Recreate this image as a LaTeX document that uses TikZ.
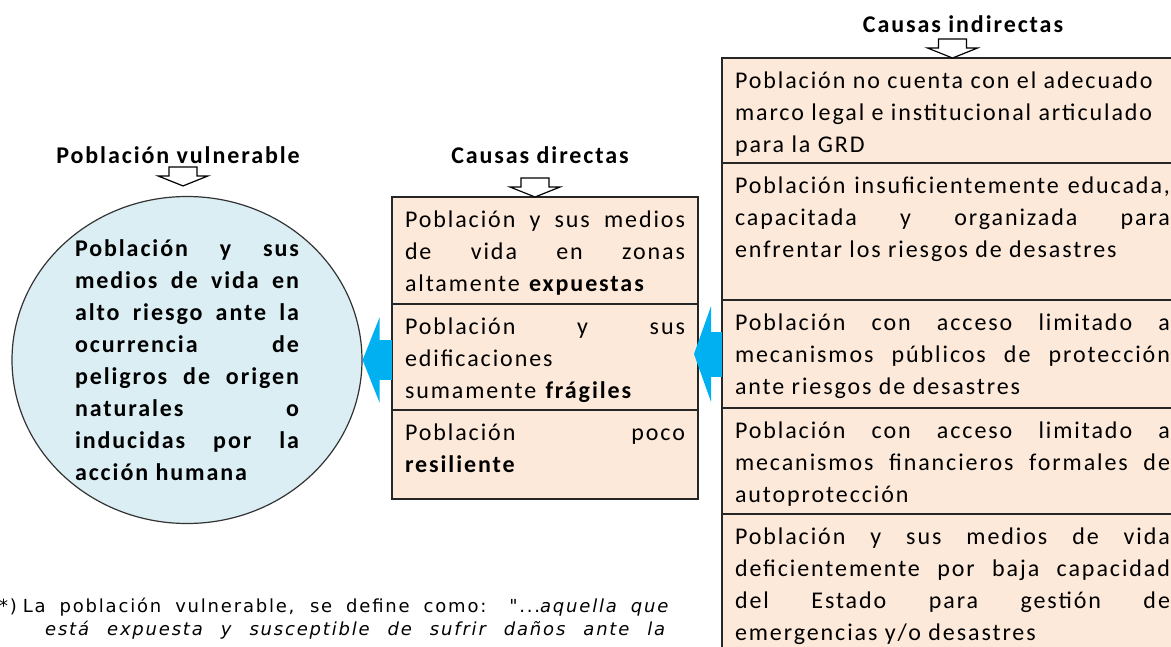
\documentclass[tikz,border=0pt]{standalone}
\usepackage{fontspec}
\setmainfont{Carlito}[LetterSpace=8]
\newfontfamily\notafont{DejaVu Sans}[LetterSpace=10]
\usetikzlibrary{shapes.geometric,arrows.meta,positioning}
\definecolor{melocoton}{HTML}{FDE9D9}
\definecolor{celeste}{HTML}{DAEEF3}
\definecolor{azulflecha}{HTML}{00B0F0}
\newcommand\lj[1]{\makebox[\linewidth][s]{#1}\\}
\newcommand\celda[3]{\parbox[t][#2pt][t]{#1pt}{\strut#3}}
\newcommand\flechahueca[1]{\draw[fill=white,line width=1.2pt] #1 -- ++(-25,-10) -- ++(11,0) -- ++(0,-9) -- ++(28,0) -- ++(0,9) -- ++(11,0) -- cycle;}
\tikzset{
	every node/.style={font=\fontsize{24}{32}\selectfont},
	causa/.style={draw=black!85,fill=melocoton,line width=1.6pt,outer sep=0pt,inner xsep=13pt,inner ysep=8pt},
	titulo/.style={font=\fontsize{24}{32}\selectfont\bfseries},
	nota/.style={font=\notafont\fontsize{18}{22}\selectfont,inner sep=0pt,anchor=west},
	bloque/.style={draw=azulflecha,line width=#1},
}
\begin{document}
\begin{tikzpicture}[x=1pt,y=-1pt]
\useasboundingbox (0,0) rectangle (1171,646);
\clip (0,0) rectangle (1171,646);

% poblacion vulnerable
\node[ellipse,draw=black!80,fill=celeste,line width=1.2pt,minimum width=350pt,minimum height=327pt,inner sep=0pt] (vuln) at (187,360) {};
\node[inner sep=0pt] (vulntexto) at (vuln.center) {\parbox{224pt}{\bfseries
	\lj{Población y sus}\lj{medios de vida en}\lj{alto riesgo ante la}\lj{ocurrencia de}%
	\lj{peligros de origen}\lj{naturales o}\lj{inducidas por la}acción humana}};
\node[titulo] (tvuln) at (178,155) {Población vulnerable};

% causas directas
\node[causa,anchor=north west] (dir1) at (392,197) {\celda{280}{91}{\lj{Población y sus medios}\lj{de vida en zonas}altamente \textbf{expuestas}}};
\node[causa,below=0pt of dir1] (dir2) {\celda{280}{90}{\lj{Población y sus}edificaciones\\sumamente \textbf{frágiles}}};
\node[causa,below=0pt of dir2] (dir3) {\celda{280}{73}{\lj{Población poco}\textbf{resiliente}}};
\node[titulo] (tdir) at (540,155) {Causas directas};

% causas indirectas
\node[causa,anchor=north west] (ind1) at (722,58) {\celda{435}{89}{Población no cuenta con el adecuado\\marco legal e institucional articulado\\para la GRD}};
\node[causa,below=0pt of ind1] (ind2) {\celda{435}{121}{\lj{Población insuficientemente educada,}\lj{capacitada y organizada para}enfrentar los riesgos de desastres}};
\node[causa,below=0pt of ind2] (ind3) {\celda{435}{92}{\lj{Población con acceso limitado a}\lj{mecanismos públicos de protección}ante riesgos de desastres}};
\node[causa,below=0pt of ind3] (ind4) {\celda{435}{90}{\lj{Población con acceso limitado a}\lj{mecanismos financieros formales de}autoprotección}};
\node[causa,below=0pt of ind4] (ind5) {\celda{435}{124}{\lj{Población y sus medios de vida}\lj{deficientemente por baja capacidad}\lj{del Estado para gestión de}emergencias y/o desastres}};
\node[titulo] (tind) at (963,24) {Causas indirectas};

% flechas
\flechahueca{([xshift=-4pt,yshift=10pt]vuln.north)}
\flechahueca{([xshift=-10pt]dir1.north)}
\flechahueca{(ind1.north)}
\draw[bloque=40pt,-{Triangle[length=17pt,width=85pt]}] (vuln.east -| dir2.west) -- (vuln.east);
\draw[bloque=45pt,-{Triangle[length=17pt,width=95pt]}] (ind3.west) -- ([xshift=-4pt]ind3.west -| dir2.east);

% nota
\node[nota] (nota1) at (-10,607) {\makebox[680pt][s]{(*)\hspace{6pt}La población vulnerable, se define como: "...\textit{aquella que}}};
\node[nota] (nota2) at (45,630) {\makebox[620pt][s]{\itshape está expuesta y susceptible de sufrir daños ante la}};

\end{tikzpicture}
\end{document}
